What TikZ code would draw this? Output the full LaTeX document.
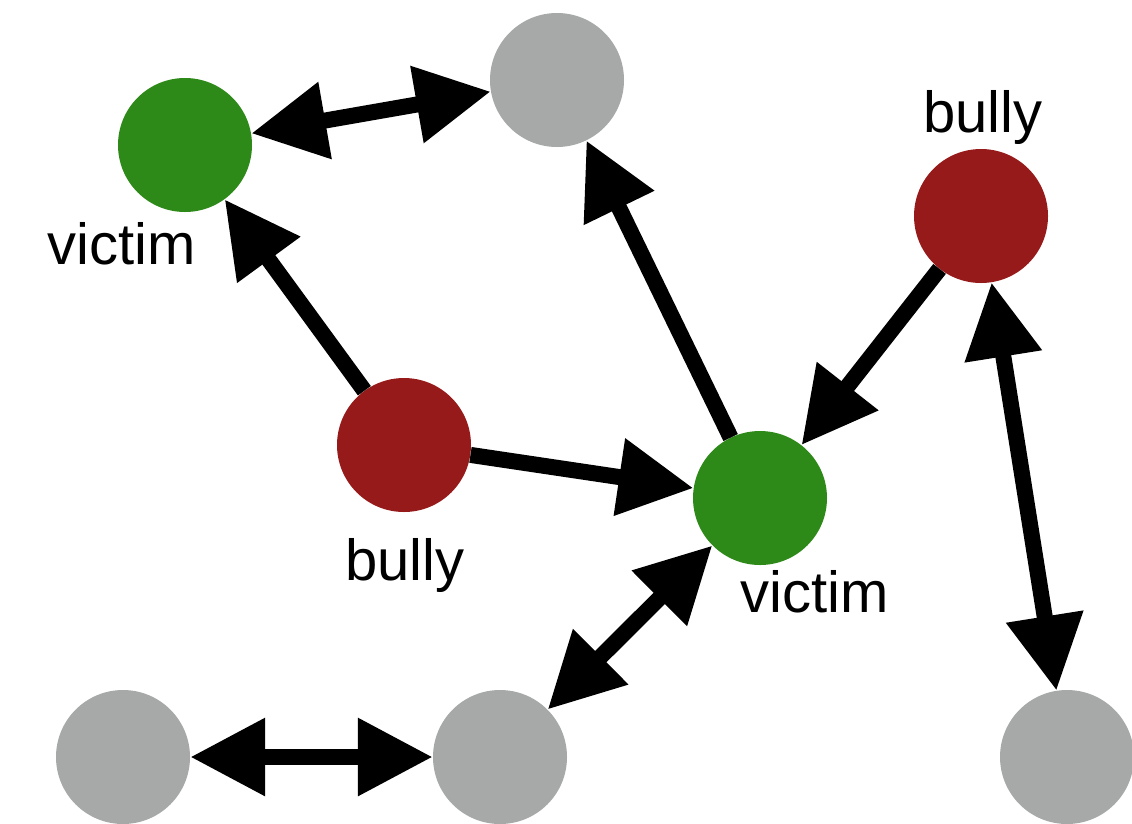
\documentclass[tikz,border=0pt]{standalone}
\usepackage{fontspec}
\setmainfont{Liberation Sans}
\usepackage{tikz}
\usetikzlibrary{arrows.meta, positioning}
\definecolor{victimgreen}{RGB}{46,138,24}
\definecolor{bullyred}{RGB}{151,26,26}
\definecolor{othergray}{RGB}{166,169,168}
\tikzstyle{person} = [circle, minimum size=134pt, inner sep=0pt]
\tikzstyle{arrow} = [line width=16pt, -{Triangle[length=75pt, width=74pt]}]
\tikzstyle{both} = [line width=16pt, {Triangle[length=75pt, width=74pt]}-{Triangle[length=75pt, width=74pt]}]

\begin{document}
\begin{tikzpicture}[
        x=1pt, y=-1pt,
        victim/.style={person, fill=victimgreen},
        bully/.style={person, fill=bullyred},
        other/.style={person, fill=othergray},
        lbl/.style={anchor=base, inner sep=0pt, font=\fontsize{58}{60}\selectfont}
        ]
        \useasboundingbox (0,0) rectangle (1132,823);

        \node[victim] (victim_a) at (185,145) {};
        \node[other] (top) at (557,80) {};
        \node[bully] (bully_b) at (981,216) {};
        \node[bully] (bully_a) at (404,445) {};
        \node[victim] (victim_b) at (760,498) {};
        \node[other] (bottom_left) at (123,757) {};
        \node[other] (bottom_mid) at (500,757) {};
        \node[other] (bottom_right) at (1067,757) {};

        \node[lbl] (lbl_victim_a) at (122,264) {victim};
        \node[lbl] (lbl_bully_b) at (983,132) {bully};
        \node[lbl] (lbl_bully_a) at (405,580) {bully};
        \node[lbl] (lbl_victim_b) at (815,612) {victim};

        \draw[both] (victim_a) -- (top);
        \draw[arrow] (bully_a) -- (victim_a);
        \draw[arrow] (bully_a) -- (victim_b);
        \draw[arrow] (victim_b) -- (top);
        \draw[arrow] (bully_b) -- (victim_b);
        \draw[both] (bully_b) -- (bottom_right);
        \draw[both] (victim_b) -- (bottom_mid);
        \draw[both] (bottom_left) -- (bottom_mid);

    \end{tikzpicture}
\end{document}
